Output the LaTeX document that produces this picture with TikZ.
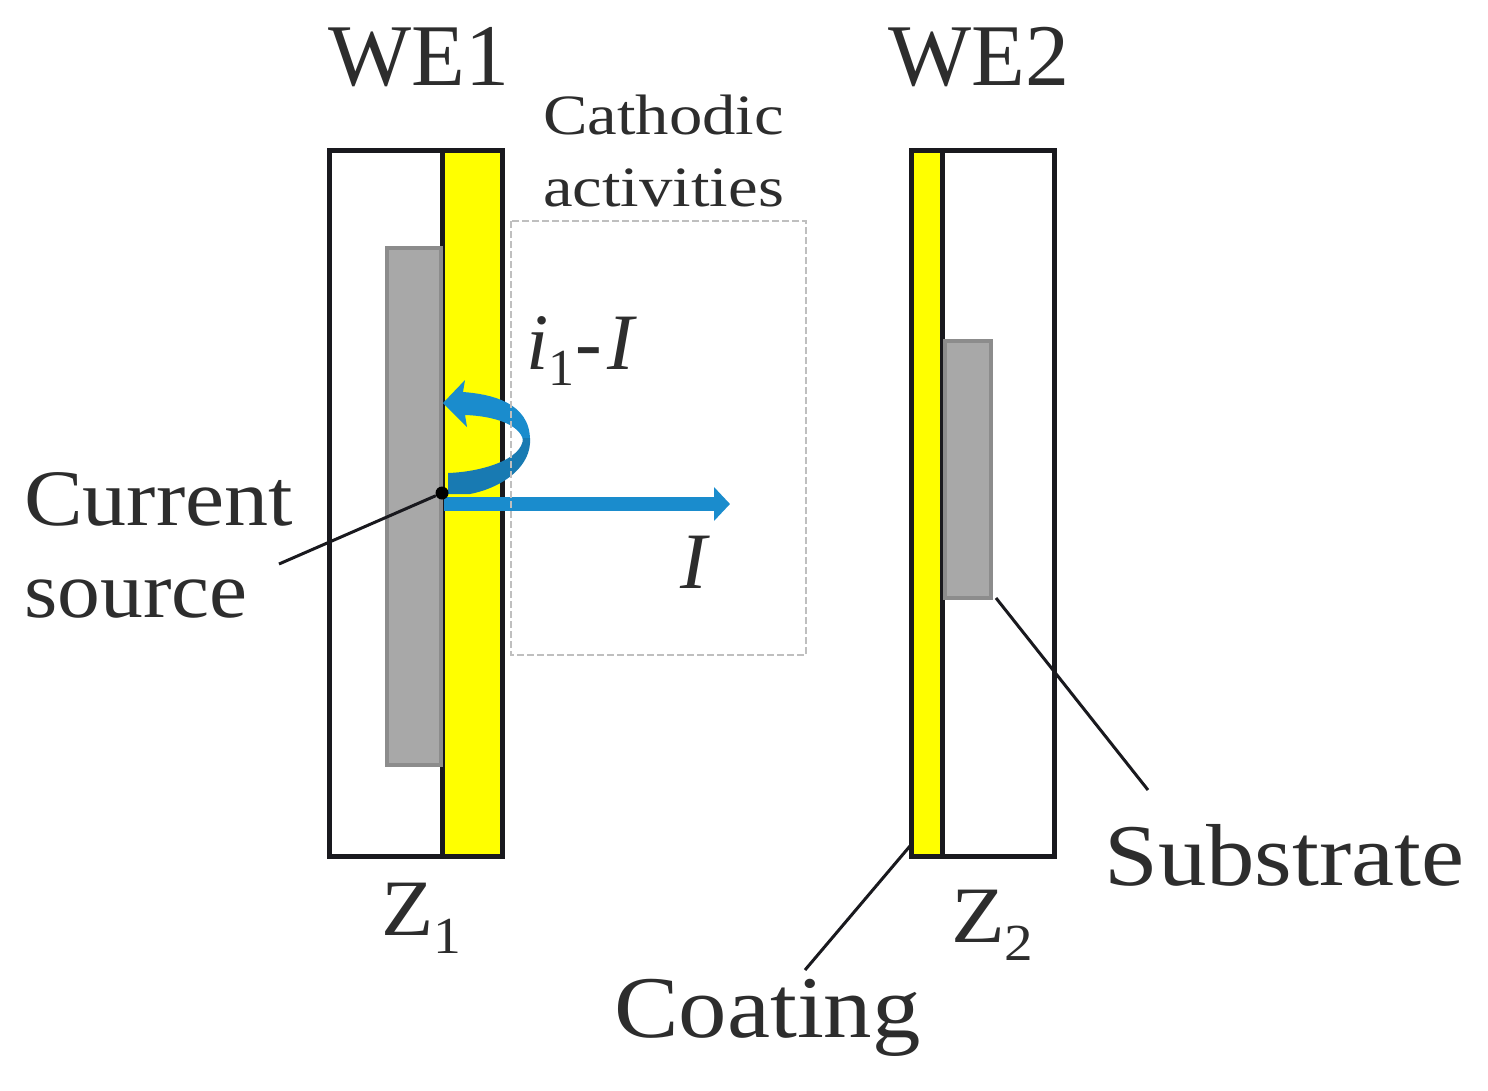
\documentclass[tikz,border=0pt]{standalone}
\usepackage{fontspec}
\setmainfont{Liberation Serif}
\newfontfamily\stA[FakeStretch=1.10]{Liberation Serif}
\newfontfamily\stC[FakeStretch=1.07]{Liberation Serif}
\newfontfamily\stB[FakeStretch=1.17]{Liberation Serif}
\usetikzlibrary{arrows.meta}
\definecolor{txt}{RGB}{45,45,45}
\definecolor{blu}{RGB}{26,140,205}
\definecolor{bluD}{RGB}{24,122,178}
\definecolor{gry}{RGB}{168,168,168}
\definecolor{gedge}{RGB}{140,140,140}
\definecolor{yel}{RGB}{255,255,0}
\definecolor{frame}{RGB}{25,25,30}
\tikzset{x=1pt,y=-1pt,
 box/.style={draw=frame,line width=5pt},
 gbox/.style={draw=gedge,line width=4.5pt,fill=gry},
 lbl/.style={text=txt,inner sep=0,anchor=base west},
 lead/.style={draw=frame,line width=3pt}}
\newcommand{\fs}[1]{\fontsize{#1}{#1}\selectfont}
\begin{document}
\begin{tikzpicture}
\useasboundingbox (0,0) rectangle (1488,1090);
\fill[white] (0,0) rectangle (1488,1090);
% WE1
\fill[yel] (442,150) rectangle (501,855);
\draw[box] (442,150) -- (442,856);
\draw[gbox] (387,248) rectangle (441,765);
\draw[box] (329,150) rectangle (502,856);
% WE2
\fill[yel] (911,150) rectangle (943,856);
\draw[box] (942,150) -- (942,856);
\draw[gbox] (945,341) rectangle (991,598);
\draw[box] (911,150) rectangle (1054,856);
% arrows
\coordinate (src) at (442,493);
\coordinate (Iend) at (730,504);
\draw[blu,line width=14pt,-{Triangle[length=16pt,width=33pt]}] (444,504) -- (Iend);
\fill[blu] (443,403) -- (465,380) -- (463,392) .. controls (490,394) and (530,402) .. (530,440)
 -- (523,440) .. controls (520,425) and (495,416) .. (465,415) -- (467,427) -- cycle;
\fill[bluD] (448,473) .. controls (480,472) and (523,460) .. (523,438) -- (530,438)
 .. controls (532,465) and (505,487) .. (470,494) -- (448,494) -- cycle;
% dashed
\draw[black!25,line width=2.4pt,dash pattern=on 7pt off 3pt] (511,221) rectangle (806,655);
% source
\node[circle,fill=black,inner sep=0,minimum size=13pt] (dot) at (src) {};
\coordinate (srcl) at (279,564);
\draw[lead] (srcl) -- (dot);
% leads
\coordinate (c1) at (805,970);
\coordinate (c2) at (910,846);
\draw[lead] (c1) -- (c2);
\coordinate (s1) at (1148,790);
\coordinate (s2) at (996,598);
\draw[lead] (s1) -- (s2);
% text
\node[lbl,font=\fs{88}] (we1) at (328,85) {WE1};
\node[lbl,font=\fs{88}] (we2) at (888,85) {WE2};
\node[lbl,font=\fs{57}\stB] (ca) at (543,134) {Cathodic};
\node[lbl,font=\fs{57}\stB] (cb) at (543,206) {activities};
\node[lbl,font=\fs{80}] (i1) at (526,369) {\textit{i}\raisebox{-16pt}{\fs{52}1}\hspace{1pt}-\hspace{5pt}\textit{I}};
\node[lbl,font=\fs{80}] (ii) at (680,588) {\textit{I}};
\node[lbl,font=\fs{80}\stA] (cs1) at (24,525) {Current};
\node[lbl,font=\fs{80}\stC] (cs2) at (24,617) {source};
\node[lbl,font=\fs{80}\stC] (z1) at (381,935) {Z\raisebox{-18pt}{\fs{52}1}};
\node[lbl,font=\fs{80}\stA] (z2) at (951,942) {Z\raisebox{-18pt}{\fs{52}2}};
\node[lbl,font=\fs{88}\stA] (coat) at (614,1037) {Coating};
\node[lbl,font=\fs{88}\stA] (sub) at (1104,885) {Substrate};
\end{tikzpicture}
\end{document}
